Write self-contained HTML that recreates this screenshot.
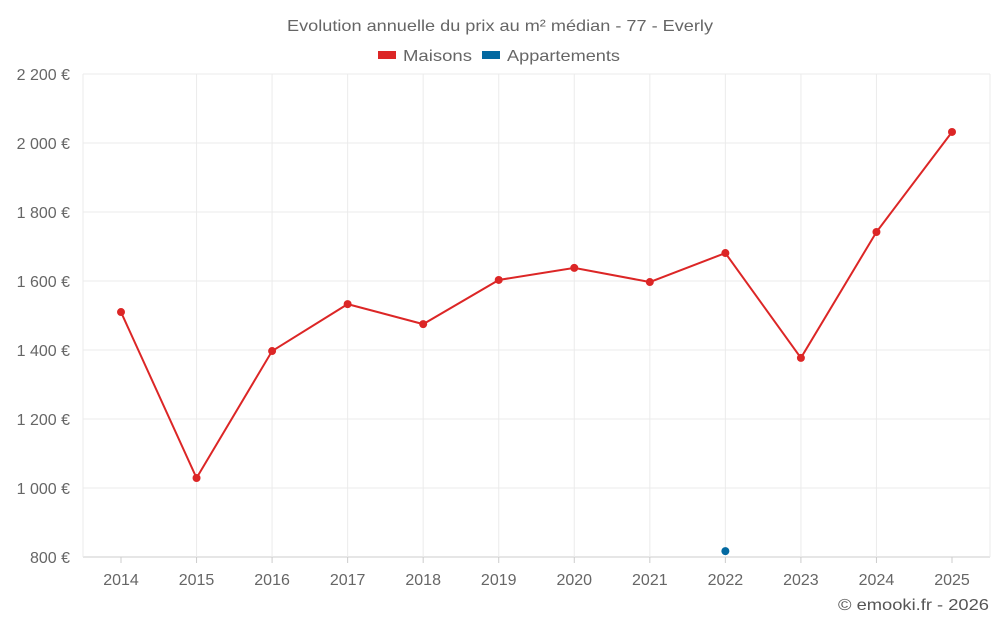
<!DOCTYPE html>
<html><head><meta charset="utf-8"><style>
body{margin:0;background:#fff;font-family:"Liberation Sans",sans-serif;}
svg text{font-family:"Liberation Sans",sans-serif;}
</style></head><body>
<svg id="chart" width="1000" height="625" xmlns="http://www.w3.org/2000/svg">
<text x="287" y="31" textLength="426" lengthAdjust="spacingAndGlyphs" font-size="16" fill="#666">Evolution annuelle du prix au m² médian - 77 - Everly</text>
<g>
<g><rect x="378" y="51" width="18" height="8" fill="#dc2626"/><text x="403" y="61" textLength="69" lengthAdjust="spacingAndGlyphs" font-size="16" fill="#666">Maisons</text></g>
<g><rect x="482" y="51" width="18" height="8" fill="#0369a1"/><text x="507" y="61" textLength="113" lengthAdjust="spacingAndGlyphs" font-size="16" fill="#666">Appartements</text></g>
</g>
<g id="grid"></g>
<g id="axes"></g>
<g id="series"></g>
<text x="838" y="610" textLength="151" lengthAdjust="spacingAndGlyphs" font-size="16" fill="#555">© emooki.fr - 2026</text>
</svg>
<script>
const years=["2014","2015","2016","2017","2018","2019","2020","2021","2022","2023","2024","2025"];
const maisons=[1510,1029,1397,1533,1475,1603,1638,1597,1681,1377,1742,2032];
const appartements=[null,null,null,null,null,null,null,null,817,null,null,null];
const yTicks=[800,1000,1200,1400,1600,1800,2000,2200];
const yTickLabels=["800 €","1 000 €","1 200 €","1 400 €","1 600 €","1 800 €","2 000 €","2 200 €"];
const NS="http://www.w3.org/2000/svg";
const L=83,R=990,T=74,B=557;
const y=v=>B-(v-800)/(2200-800)*(B-T);
const x=i=>121+i*(952-121)/(years.length-1);
function mk(t,a,p){const e=document.createElementNS(NS,t);for(const k in a)e.setAttribute(k,a[k]);p.appendChild(e);return e;}
const grid=document.getElementById('grid'),axes=document.getElementById('axes'),ser=document.getElementById('series');
yTicks.forEach((v,i)=>{
 const l=mk('line',{x1:L,x2:R,y1:y(v),y2:y(v),stroke:i==0?'#ccc':'#ebebeb','stroke-width':1},grid);
 
 
 const t=mk('text',{x:70,y:y(v)+6,'text-anchor':'end','font-size':16,fill:'#666'},axes);
 t.textContent=yTickLabels[i];
 
 
});
[L,R].concat(years.map((_,i)=>x(i)).slice(1,-1)).forEach(px=>{
 const l=mk('line',{x1:px,x2:px,y1:T,y2:B,stroke:'#ebebeb','stroke-width':1},grid);
 
 
});
years.forEach((yr,i)=>{
 const k=mk('line',{x1:x(i),x2:x(i),y1:B,y2:B+6,stroke:'#ccc'},axes);
 
 
 const t=mk('text',{x:x(i),y:585,'text-anchor':'middle','font-size':16,fill:'#666'},axes);
 t.textContent=yr;
 
 
});
const pts=maisons.map((v,i)=>x(i)+','+y(v)).join(' ');
const pl=mk('polyline',{points:pts,fill:'none',stroke:'#dc2626','stroke-width':2},ser);


maisons.forEach((v,i)=>{
 const c=mk('circle',{cx:x(i),cy:y(v),r:4,fill:'#dc2626'},ser);
 
 
});
appartements.forEach((v,i)=>{
 if(v==null)return;
 const c=mk('circle',{cx:x(i),cy:y(v),r:4,fill:'#0369a1'},ser);
 
 
});
</script>
</body></html>
